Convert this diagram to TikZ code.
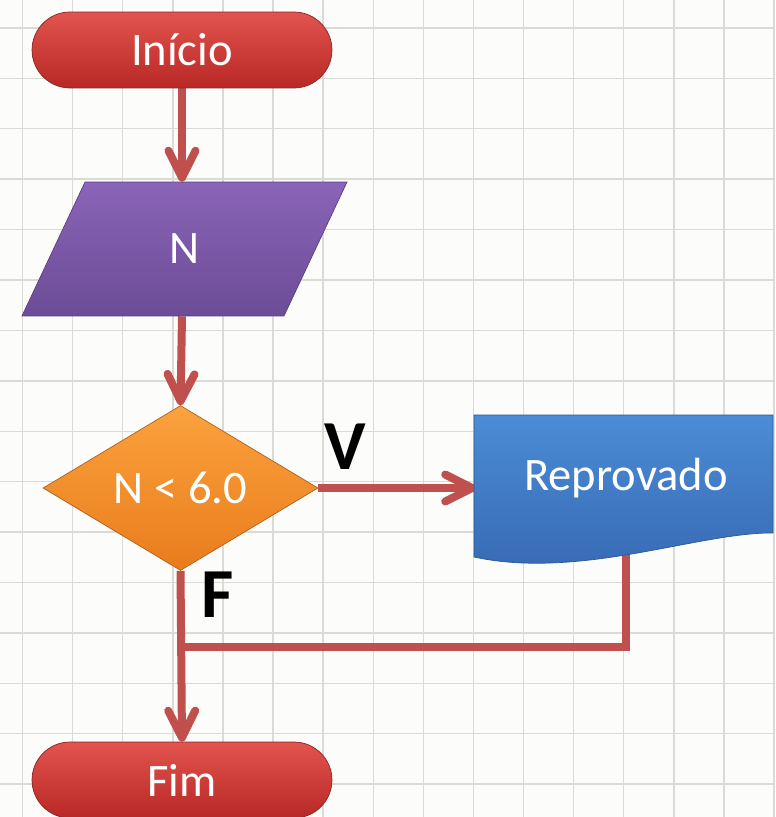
\documentclass[tikz,border=0pt]{standalone}
\usepackage{fontspec}
\setmainfont{Carlito}
\usetikzlibrary{arrows.meta}
\usetikzlibrary{shapes.geometric}
\usetikzlibrary{backgrounds}
\usetikzlibrary{positioning}
\definecolor{papel}{RGB}{252,252,250}
\definecolor{grade}{RGB}{218,218,214}
\definecolor{seta}{RGB}{192,80,77}
\definecolor{termA}{RGB}{226,84,78}
\definecolor{termB}{RGB}{184,40,38}
\definecolor{termD}{RGB}{140,36,34}
\definecolor{roxoA}{RGB}{138,100,184}
\definecolor{roxoB}{RGB}{108,76,150}
\definecolor{roxoD}{RGB}{92,64,130}
\definecolor{laranjaA}{RGB}{251,162,62}
\definecolor{laranjaB}{RGB}{233,124,28}
\definecolor{laranjaD}{RGB}{176,96,36}
\definecolor{azulA}{RGB}{76,140,214}
\definecolor{azulB}{RGB}{54,104,178}
\definecolor{azulD}{RGB}{44,86,150}
\newcommand{\boxfont}{\fontsize{26.5pt}{30pt}\selectfont}
\newcommand{\ramofont}{\fontsize{40pt}{44pt}\selectfont\bfseries}

\begin{document}
\begin{tikzpicture}[x=0.02cm,y=-0.02cm,
    terminal/.style={rounded corners=0.76cm,minimum width=6cm,minimum height=1.52cm,
        top color=termA,bottom color=termB,draw=termD},
    entrada/.style={trapezium,trapezium left angle=64.8,trapezium right angle=115.2,
        inner xsep=1.69cm,inner ysep=1.04cm,
        top color=roxoA,bottom color=roxoB,draw=roxoD},
    decisao/.style={diamond,minimum width=5.5cm,minimum height=3.22cm,inner sep=0pt,
        top color=laranjaA,bottom color=laranjaB,draw=laranjaD},
    rotulo/.style={font=\ramofont,text=black},
    grid line/.style={draw=grade,line width=0.8pt}]
    \useasboundingbox (0,0) rectangle (775,817);

    \begin{scope}[every node/.style={thin,text=white,font=\boxfont}]
        \node[terminal] (inicio) at (182,50) {Início};
        \node[entrada] (leitura) at (184.5,249) {N};
        \node[decisao] (teste) at (180.5,488) {N < 6.0};
        \path[top color=azulA,bottom color=azulB,draw=azulD,thin]
            (474,415) -- (773,415) -- (773,533)
            .. controls (700,532) and (580,580) .. (474,557) -- cycle;
        \node[minimum width=5.98cm,minimum height=2.52cm] (reprov) at (626,478) {Reprovado};
        \node[terminal] (fim) at (182,780) {Fim};
    \end{scope}

    \node[rotulo] (ramov) at (345,447) {V};
    \node[rotulo] (ramof) at (218,595) {F};

    \begin{scope}[on background layer]
        \fill[papel] (0,0) rectangle (775,817);
        \foreach \i in {0,...,15} {
            \draw[grid line] (22.5+50.1*\i,0) -- (22.5+50.1*\i,817);
            \draw[grid line] (0,28+50.4*\i) -- (775,28+50.4*\i);
        }
        \coordinate (junta) at (182,647);

        \begin{scope}[>={Straight Barb[length=0.54cm,width=0.54cm,round]},
            every edge/.style={draw=seta,line width=0.16cm}]
            \path [->] (inicio.south) edge (inicio.south |- leitura.north);
            \path [->] (inicio.south |- leitura.south) edge (teste.north);
            \path [->] (teste.east) edge (teste.east -| reprov.west);
            \path [->] (teste.south) edge (fim.north);
        \end{scope}
        \draw[seta,line width=0.16cm] (reprov.south) |- (junta);
    \end{scope}
\end{tikzpicture}
\end{document}
